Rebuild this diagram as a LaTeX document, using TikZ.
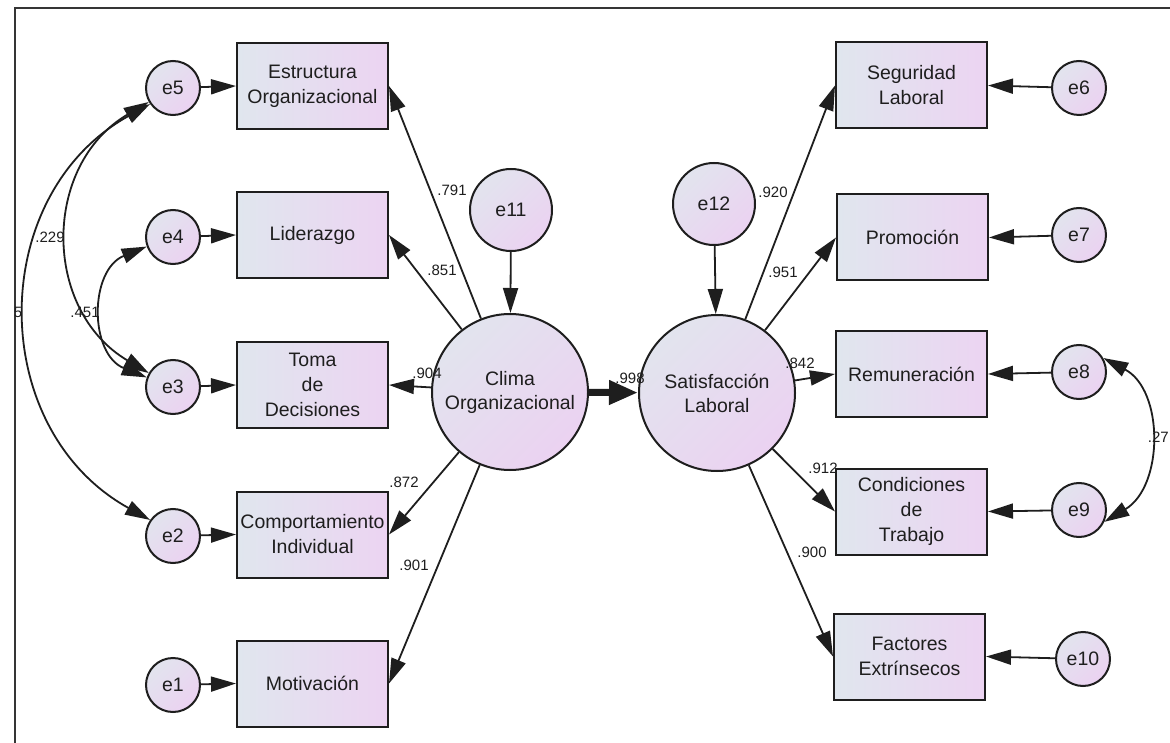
\documentclass[tikz,border=0pt]{standalone}
\usepackage{fontspec}
\setmainfont{Liberation Sans}
\usetikzlibrary{arrows.meta}
\definecolor{boxL}{HTML}{E0E6EE}
\definecolor{boxR}{HTML}{ECD4F2}
\definecolor{cirL}{HTML}{E2E4EE}
\definecolor{cirR}{HTML}{EBD2F1}
\definecolor{ink}{HTML}{1E1E1E}
\begin{document}
\begin{tikzpicture}[x=1pt,y=-1pt,
  obs/.style={draw=ink, line width=2pt, minimum width=151pt, minimum height=86pt, inner sep=0pt,
    left color=boxL, right color=boxR, align=center, text=ink,
    font=\fontsize{19.5}{25}\selectfont},
  errc/.style={circle, draw=ink, line width=2pt, minimum size=54pt, inner sep=0pt,
    top color=cirL, bottom color=cirR, shading angle=45, text=ink,
    font=\fontsize{19.5}{24}\selectfont},
  bigc/.style={errc, minimum size=156pt, align=center},
  midc/.style={errc, minimum size=82pt},
  coef/.style={font=\fontsize{15}{18}\selectfont, text=ink, inner sep=0pt},
  link/.style={draw=ink, line width=1.8pt, -{Triangle[length=25pt,width=15pt]}},
  cov/.style={draw=ink, line width=1.8pt, {Triangle[length=25pt,width=15pt]}-{Triangle[length=25pt,width=15pt]}},
  thick link/.style={draw=ink, line width=7pt, -{Triangle[length=29pt,width=23pt]}}
]
\useasboundingbox (0,0) rectangle (1170,743);
\fill[white] (0,0) rectangle (1170,743);
\draw[draw=ink!90, line width=1.6pt] (15,746) -- (15,8) -- (1175,8);

% left indicators
\node[obs] (estr) at (312.5,86) {Estructura\\Organizacional};
\node[obs] (lid)  at (312.5,235) {Liderazgo};
\node[obs] (toma) at (312.5,385) {Toma\\de\\Decisiones};
\node[obs] (comp) at (312.5,534.5) {Comportamiento\\Individual};
\node[obs] (mot)  at (312.5,683.5) {Motivación};

\node[errc] (e5) at (173,88) {e5};
\node[errc] (e4) at (173,237) {e4};
\node[errc] (e3) at (173,387) {e3};
\node[errc] (e2) at (173,536) {e2};
\node[errc] (e1) at (173,685) {e1};

% latent
\node[bigc] (clima) at (510,392) {Clima\\Organizacional};
\node[bigc] (satis) at (717,393) {Satisfacción\\Laboral};
\node[midc] (e11) at (511,210) {e11};
\node[midc] (e12) at (714,204) {e12};

% right indicators
\node[obs] (seg)  at (911.5,85.5) {Seguridad\\Laboral};
\node[obs] (prom) at (912.5,237.5) {Promoción};
\node[obs] (rem)  at (911.5,374) {Remuneración};
\node[obs] (cond) at (911.5,511.5) {Condiciones\\de\\Trabajo};
\node[obs] (fact) at (909.5,656.5) {Factores\\Extrínsecos};

\node[errc] (e6)  at (1079,88) {e6};
\node[errc] (e7)  at (1079,235) {e7};
\node[errc] (e8)  at (1079,372) {e8};
\node[errc] (e9)  at (1079,510) {e9};
\node[errc] (e10) at (1083,659) {e10};

% error arrows
\draw[link] (e5) -- (estr.west);
\draw[link] (e4) -- (lid.west);
\draw[link] (e3) -- (toma.west);
\draw[link] (e2) -- (comp.west);
\draw[link] (e1) -- (mot.west);
\draw[link] (e6) -- (seg.east);
\draw[link] (e7) -- (prom.east);
\draw[link] (e8) -- (rem.east);
\draw[link] (e9) -- (cond.east);
\draw[link] (e10) -- (fact.east);
\draw[link] (e11) -- (clima);
\draw[link] (e12) -- (satis);

% loadings
\draw[link] (clima) -- (estr.east);
\draw[link] (clima) -- (lid.east);
\draw[link] (clima) -- (toma.east);
\draw[link] (clima) -- (comp.east);
\draw[link] (clima) -- (mot.east);
\draw[link] (satis) -- (seg.west);
\draw[link] (satis) -- (prom.west);
\draw[link] (satis) -- (rem.west);
\draw[link] (satis) -- (cond.west);
\draw[link] (satis) -- (fact.west);
\draw[thick link] (clima) -- (satis);

% covariances
\draw[cov] (e5.215) .. controls (-14,195) and (-14,429) .. (e2.145);
\draw[cov] (e5.210) .. controls (42,165) and (42,310) .. (e3.150);
\draw[cov] (e4.200) .. controls (89,270) and (89,354) .. (e3.160);
\draw[cov] (e8.30) .. controls (1164,390) and (1164,486) .. (e9.-25);

% coefficients
\node[coef] (c791) at (452,190) {.791};
\node[coef] (c851) at (442,270) {.851};
\node[coef] (c904) at (427,373) {.904};
\node[coef] (c872) at (404,482) {.872};
\node[coef] (c901) at (414,565) {.901};
\node[coef] (c998) at (630,378) {.998};
\node[coef] (c920) at (773,192) {.920};
\node[coef] (c951) at (783,272) {.951};
\node[coef] (c842) at (800,363) {.842};
\node[coef] (c912) at (823,468) {.912};
\node[coef] (c900) at (812,552) {.900};
\node[coef] (c229) at (50,237) {.229};
\node[coef] (c451) at (85,312) {.451};
\node[coef, anchor=east] (c5) at (22.5,312) {5};
\node[coef, anchor=east] (c27) at (1169,437) {.27};
\end{tikzpicture}
\end{document}
